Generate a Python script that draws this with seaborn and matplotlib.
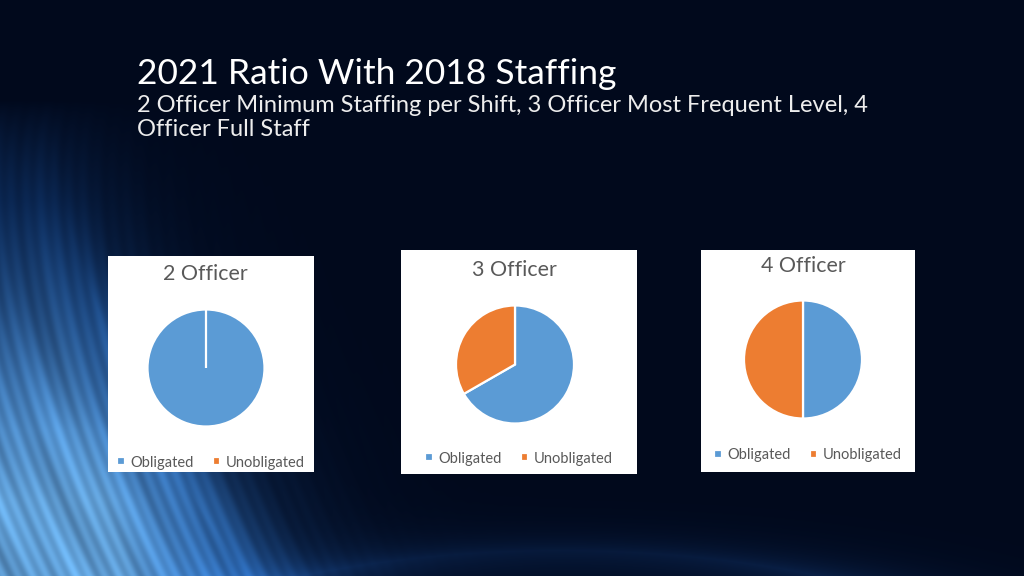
import numpy as np
import matplotlib
matplotlib.use("Agg")
import matplotlib.pyplot as plt
import seaborn as sns
from matplotlib.patches import Rectangle

# ---- data ----
panel_titles = ["2 Officer", "3 Officer", "4 Officer"]
categories = ["Obligated", "Unobligated"]
obligated = [100, 66.7, 50]
unobligated = [0, 33.3, 50]
colors = ["#5B9BD5", "#ED7D31"]

title = "2021 Ratio With 2018 Staffing"
subtitle_lines = ["2 Officer Minimum Staffing per Shift, 3 Officer Most Frequent Level, 4",
                  "Officer Full Staff"]

sns.set_theme(style="white")
plt.rcParams['font.family'] = ['Lato', 'DejaVu Sans']

W, H = 1024, 576
fig = plt.figure(figsize=(W / 100, H / 100), dpi=100)

# ---- background (decorative) ----
bg = fig.add_axes([0, 0, 1, 1])
yy, xx = np.mgrid[0:H, 0:W].astype(float)
base = np.array([1, 9, 28]) / 255.0
t = np.clip((yy - 120) / 456, 0, None)
xb = 50 + 195 * t ** 1.6
u = xx - xb
side = np.where(u < 0, 1.0, np.exp(-u / 55.0))
vert = np.clip((yy - 100) / 330, 0, 1) ** 0.8
streak = (0.86 + 0.08 * np.sin((u + 0.2 * yy) / 2.3)
          + 0.06 * np.sin(u / 7.0 + yy / 45.0) + 0.05 * np.sin(u / 17.0 - yy / 80.0))
s1 = side * vert * streak
left_boost = np.exp(-np.clip(xx - 0.3 * (yy - 150), 0, None) / 90.0) * np.clip((yy - 200) / 300, 0, 1)
mid = np.array([28, 92, 178]) / 255.0
bright = np.array([110, 180, 240]) / 255.0
d = (np.sqrt(((xx - 560) / 720.0) ** 2 + ((yy - 930) / 380.0) ** 2) - 1) * 380
arc = 0.35 * np.exp(-np.abs(d) / 22.0) * np.clip((yy - 480) / 96, 0, 1)
img = base[None, None, :] * np.ones((H, W, 1))
img = img + s1[..., None] * (mid - base)[None, None, :]
img = img + (s1 * left_boost)[..., None] * (bright - mid)[None, None, :]
img = img + arc[..., None] * (np.array([25, 75, 150]) / 255.0 - base)[None, None, :]
img = np.clip(img, 0, 1)
bg.imshow(img, extent=[0, W, H, 0], aspect="auto", interpolation="bilinear")
bg.set_xlim(0, W)
bg.set_ylim(H, 0)
bg.axis("off")

def fx(x):
    return x / W

def fy(y):
    return 1 - y / H

# ---- titles ----
fig.text(fx(137), fy(84), title, color="white", fontsize=25.5, va="baseline", ha="left")
fig.text(fx(137), fy(111.5), subtitle_lines[0], color="#EDEDED", fontsize=17, va="baseline", ha="left")
fig.text(fx(137), fy(136.5), subtitle_lines[1], color="#EDEDED", fontsize=17, va="baseline", ha="left")

# ---- panels ----
panels = [(108, 256, 206, 216), (401, 250, 236, 224), (701, 250, 214, 222)]
pie_geo = [(206, 368, 58.5), (515, 364.5, 59), (803, 359.5, 59)]
title_pos = [(205.5, 273.5), (514, 270.5), (803, 265.5)]
legend_pos = [(211, 462.5), (519, 458.5), (808, 455)]

for i in range(3):
    px, py, pw, ph = panels[i]
    fig.patches.append(Rectangle((fx(px), fy(py + ph)), pw / W, ph / H,
                                 transform=fig.transFigure, facecolor="white",
                                 edgecolor="none", zorder=1))
    cx, cy, r = pie_geo[i]
    ax = fig.add_axes([fx(cx - r - 2), fy(cy + r + 2), (2 * r + 4) / W, (2 * r + 4) / H])
    ax.set_zorder(2)
    vals = [obligated[i], unobligated[i]]
    wedges, _ = ax.pie(vals, colors=colors, startangle=90, counterclock=False,
                       radius=1.0, wedgeprops=dict(edgecolor="white", linewidth=1.6))
    lim = (r + 2) / r
    ax.set_xlim(-lim, lim)
    ax.set_ylim(-lim, lim)
    ax.set_aspect("auto")
    ax.axis("off")
    tx, ty = title_pos[i]
    fig.text(fx(tx), fy(ty), panel_titles[i], color="#595959", fontsize=15.4,
             ha="center", va="center", zorder=3)
    lx, ly = legend_pos[i]
    leg = fig.legend(wedges, categories, loc="center", bbox_to_anchor=(fx(lx), fy(ly)),
                     ncol=2, frameon=False, fontsize=10.5, handlelength=0.5,
                     handleheight=0.5, handletextpad=0.4, columnspacing=1.3,
                     borderaxespad=0, borderpad=0)
    for t_ in leg.get_texts():
        t_.set_color("#595959")
    leg.set_zorder(3)

fig.savefig("out.png", dpi=100)
